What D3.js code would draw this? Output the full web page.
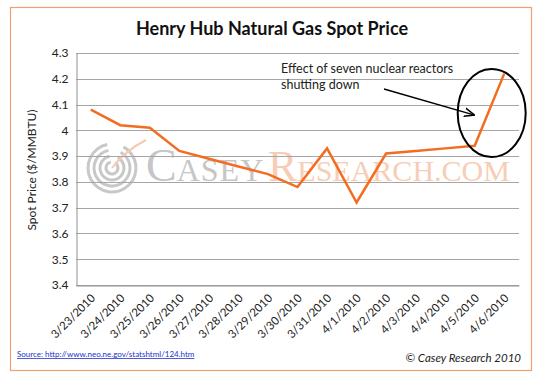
<!DOCTYPE html>
<html>
<head>
<meta charset="utf-8">
<script src="https://cdn.jsdelivr.net/npm/d3@7"></script>
<style>
  body { margin: 0; background: #fff; }
  svg { display: block; }
</style>
</head>
<body>
<svg id="chart" width="550" height="376"></svg>
<script>
// data
var dates = ['3/23/2010', '3/24/2010', '3/25/2010', '3/26/2010', '3/27/2010', '3/28/2010',
  '3/29/2010', '3/30/2010', '3/31/2010', '4/1/2010', '4/2/2010', '4/3/2010', '4/4/2010',
  '4/5/2010', '4/6/2010'];
var prices = [4.08, 4.02, 4.01, 3.92, 3.89, 3.86, 3.83, 3.78, 3.93, 3.72, 3.91, 3.92, 3.93, 3.94, 4.22];
var yTicks = [3.4, 3.5, 3.6, 3.7, 3.8, 3.9, 4.0, 4.1, 4.2, 4.3];

var font = 'Lato, "Open Sans", sans-serif';
var svg = d3.select('#chart');

// outer frame
svg.append('rect')
  .attr('x', 10.5).attr('y', 7.5)
  .attr('width', 521).attr('height', 363)
  .attr('fill', '#fff')
  .attr('stroke', '#f0a070')
  .attr('stroke-width', 1.2);

var margin = {left: 76, top: 53, right: 519, bottom: 285};

var x = d3.scaleBand()
  .domain(dates)
  .range([margin.left, margin.right]);

var y = d3.scaleLinear()
  .domain([3.4, 4.3])
  .range([margin.bottom, margin.top]);

// watermark
var wm = svg.append('g').attr('class', 'watermark');
[6, 12, 18, 24].forEach(function(r) {
  wm.append('path')
    .attr('d', d3.arc().innerRadius(r - 1.5).outerRadius(r + 1.5)
      .startAngle(0.5).endAngle(2 * Math.PI - 0.2)())
    .attr('transform', 'translate(112,168)')
    .attr('fill', '#c8c8c8');
});
wm.append('path')
  .attr('d', 'M112,168 Q126,150 146,140')
  .attr('fill', 'none')
  .attr('stroke', '#f6c9b0')
  .attr('stroke-width', 2);

var wmText1 = wm.append('text')
  .attr('x', 146).attr('y', 181)
  .attr('font-family', '"Liberation Serif", "DejaVu Serif", serif')
  .attr('fill', '#c6c6c6');
wmText1.append('tspan').attr('font-size', 46).text('C');
wmText1.append('tspan').attr('font-size', 32).attr('letter-spacing', 1).text('ASEY');

var wmText2 = wm.append('text')
  .attr('x', 268).attr('y', 181)
  .attr('font-family', '"Liberation Serif", "DejaVu Serif", serif')
  .attr('fill', '#f8cdb6');
wmText2.append('tspan').attr('font-size', 44).text('R');
wmText2.append('tspan').attr('font-size', 30).text('ESEARCH.COM');

// gridlines
svg.append('g')
  .selectAll('line')
  .data(yTicks)
  .join('line')
  .attr('x1', margin.left).attr('x2', margin.right)
  .attr('y1', function(d) { return Math.round(y(d)) + 0.5; })
  .attr('y2', function(d) { return Math.round(y(d)) + 0.5; })
  .attr('stroke', '#a6a6a6')
  .attr('stroke-width', 1);

// y axis
var yAxis = svg.append('g')
  .attr('transform', 'translate(' + (margin.left + 0.5) + ',0)')
  .call(d3.axisLeft(y).tickValues(yTicks).tickSize(0).tickPadding(8)
    .tickFormat(function(d) { return d3.format('')(+d.toFixed(1)); }));
yAxis.select('.domain').attr('stroke', '#909090');
yAxis.selectAll('text')
  .attr('font-family', font)
  .attr('font-size', 12)
  .attr('fill', '#222');

// x axis
var xAxis = svg.append('g')
  .attr('transform', 'translate(0,' + (margin.bottom + 0.5) + ')')
  .call(d3.axisBottom(x).tickSize(0).tickPadding(6));
xAxis.select('.domain').attr('stroke', '#909090');
xAxis.selectAll('text')
  .attr('font-family', font)
  .attr('font-size', 11.5)
  .attr('fill', '#222')
  .attr('text-anchor', 'end')
  .attr('dy', 0)
  .attr('transform', 'translate(1,9) rotate(-45)');

// line
var line = d3.line()
  .x(function(d, i) { return x(dates[i]) + x.bandwidth() / 2; })
  .y(function(d) { return y(d); });

svg.append('path')
  .datum(prices)
  .attr('d', line)
  .attr('fill', 'none')
  .attr('stroke', '#f26d21')
  .attr('stroke-width', 2.5)
  .attr('stroke-linejoin', 'miter');

// title
svg.append('text')
  .attr('x', 272).attr('y', 35)
  .attr('text-anchor', 'middle')
  .attr('font-family', font)
  .attr('font-weight', 'bold')
  .attr('font-size', 18)
  .attr('fill', '#111')
  .text('Henry Hub Natural Gas Spot Price');

// y axis title
svg.append('text')
  .attr('transform', 'translate(36,170) rotate(-90)')
  .attr('text-anchor', 'middle')
  .attr('font-family', font)
  .attr('font-size', 12)
  .attr('fill', '#222')
  .text('Spot Price ($/MMBTU)');

// annotation
var ann = svg.append('text')
  .attr('font-family', font)
  .attr('font-size', 12.5)
  .attr('fill', '#222');
ann.append('tspan').attr('x', 281).attr('y', 73).text('Effect of seven nuclear reactors');
ann.append('tspan').attr('x', 281).attr('y', 89).text('shutting down');

svg.append('defs').append('marker')
  .attr('id', 'arrow')
  .attr('viewBox', '0 0 10 10')
  .attr('refX', 9).attr('refY', 5)
  .attr('markerWidth', 7).attr('markerHeight', 7)
  .attr('orient', 'auto')
  .append('path')
  .attr('d', 'M0,1 L10,5 L0,9')
  .attr('fill', 'none')
  .attr('stroke', '#000')
  .attr('stroke-width', 1.5);

var x45 = x('4/5/2010') + x.bandwidth() / 2;
svg.append('line')
  .attr('x1', 384).attr('y1', 89)
  .attr('x2', x45 - 1).attr('y2', y(4.06))
  .attr('stroke', '#000')
  .attr('stroke-width', 1.5)
  .attr('marker-end', 'url(#arrow)');

svg.append('ellipse')
  .attr('cx', x45 + 17).attr('cy', y(4.067))
  .attr('rx', 34)
  .attr('ry', 44)
  .attr('fill', 'none')
  .attr('stroke', '#000')
  .attr('stroke-width', 2);

// footer
svg.append('text')
  .attr('x', 17).attr('y', 357)
  .attr('font-family', font)
  .attr('font-size', 8)
  .attr('fill', '#2233cc')
  .attr('text-decoration', 'underline')
  .text('Source: http://www.neo.ne.gov/statshtml/124.htm');

svg.append('text')
  .attr('x', 521).attr('y', 362)
  .attr('text-anchor', 'end')
  .attr('font-family', font)
  .attr('font-style', 'italic')
  .attr('font-size', 11.5)
  .attr('fill', '#222')
  .text('\u00a9 Casey Research 2010');
</script>
</body>
</html>
